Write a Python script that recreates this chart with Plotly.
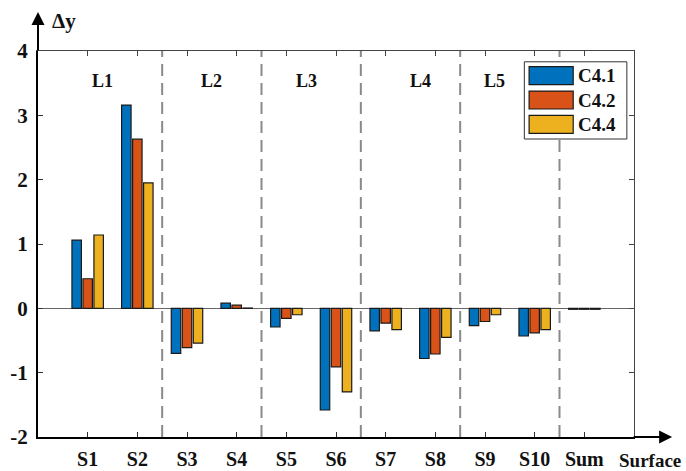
import plotly.graph_objects as go

# Sample groups along the x axis; the last tick marks the surface end
categories = ["S1", "S2", "S3", "S4", "S5", "S6", "S7", "S8", "S9", "S10", "Sum"]
end_label = "Surface"

# Layers and the samples each one contains
layers = ["L1", "L2", "L3", "L4", "L5"]
layer_members = [["S1", "S2"], ["S3", "S4"], ["S5", "S6"], ["S7", "S8"], ["S9", "S10"]]
layer_label_x = [1.3, 3.5, 5.4, 7.7, 9.2]
layer_label_y = 3.53

# Change of y per case
series_names = ["C4.1", "C4.2", "C4.4"]
c41 = [1.06, 3.16, -0.70, 0.08, -0.29, -1.58, -0.35, -0.78, -0.27, -0.43, -0.015]
c42 = [0.46, 2.63, -0.61, 0.05, -0.155, -0.91, -0.23, -0.71, -0.205, -0.38, -0.015]
c44 = [1.14, 1.95, -0.54, 0.005, -0.10, -1.30, -0.33, -0.45, -0.10, -0.33, -0.015]
series_values = [c41, c42, c44]
colors = ["#0072BD", "#D95319", "#EDB120"]

y_ticks = [-2, -1, 0, 1, 2, 3, 4]
y_tick_text = [str(v) for v in y_ticks]  # plain hyphen minus

SERIF = "Liberation Serif"
positions = list(range(1, len(categories) + 1))
all_ticks = positions + [len(categories) + 1]
all_text = categories + [""]
x_range = [0, len(categories) + 1]
y_range = [y_ticks[0], y_ticks[-1]]

fig = go.Figure()
for name, vals, col in zip(series_names, series_values, colors):
    fig.add_trace(go.Bar(
        x=positions, y=vals, name=name,
        marker=dict(color=col, line=dict(color="#1a1a1a", width=1.2)),
        showlegend=False,
    ))

# helper trace so the mirrored top/right axes are drawn
fig.add_trace(go.Scatter(x=[None], y=[None], xaxis="x2", yaxis="y2",
                         showlegend=False, hoverinfo="skip"))

shapes = []
# dashed separators after the last sample of each layer
for members in layer_members:
    sep = categories.index(members[-1]) + 1 + 0.5
    shapes.append(dict(type="line", xref="x", yref="y", x0=sep, x1=sep,
                       y0=y_range[0], y1=y_range[1],
                       line=dict(color="#8a8a8a", width=2, dash="12px,7px"),
                       layer="below"))

annotations = []
for lab, lx in zip(layers, layer_label_x):
    annotations.append(dict(x=lx, y=layer_label_y, xref="x", yref="y", text=f"<b>{lab}</b>",
                            showarrow=False, font=dict(family=SERIF, size=18, color="#111")))

# axis arrows
annotations.append(dict(x=0, y=1.101, xref="paper", yref="paper", text="",
                        showarrow=True, ax=0, ay=40, axref="pixel", ayref="pixel",
                        arrowhead=2, arrowsize=1.3, arrowwidth=2, arrowcolor="#000"))
annotations.append(dict(x=1.064, y=0, xref="paper", yref="paper", text="",
                        showarrow=True, ax=-40, ay=0, axref="pixel", ayref="pixel",
                        arrowhead=2, arrowsize=1.3, arrowwidth=2, arrowcolor="#000"))
annotations.append(dict(x=0.02, y=1.078, xref="paper", yref="paper", text="<b>Δy</b>",
                        xanchor="left", yanchor="middle", showarrow=False,
                        font=dict(family=SERIF, size=21, color="#111")))
# name of the x-axis end, placed past the axis end
annotations.append(dict(x=1.027, y=-0.06, xref="paper", yref="paper", text=f"<b>{end_label}</b>",
                        xanchor="center", yanchor="middle", showarrow=False,
                        font=dict(family=SERIF, size=19, color="#111")))

# legend box with swatches
lg_x0, lg_x1, lg_top, lg_bot = 0.816, 0.988, 0.972, 0.772
shapes.append(dict(type="rect", xref="paper", yref="paper", x0=lg_x0, x1=lg_x1,
                   y0=lg_bot, y1=lg_top, fillcolor="white",
                   line=dict(color="#333", width=1), layer="above"))
row_h = 0.063
sw_h = 0.0466
for i, (name, col) in enumerate(zip(series_names, colors)):
    yc = lg_top - 0.036 - i * row_h
    shapes.append(dict(type="rect", xref="paper", yref="paper", x0=0.824, x1=0.898,
                       y0=yc - sw_h / 2, y1=yc + sw_h / 2, fillcolor=col,
                       line=dict(color="#1a1a1a", width=1.2), layer="above"))
    annotations.append(dict(x=0.903, y=yc, xref="paper", yref="paper", text=f"<b>{name}</b>",
                            xanchor="left", yanchor="middle", showarrow=False,
                            font=dict(family=SERIF, size=19, color="#111")))

fig.update_layout(
    width=686, height=471,
    margin=dict(l=38, r=52, t=51, b=34),
    paper_bgcolor="white", plot_bgcolor="white",
    barmode="group", bargap=0.336, bargroupgap=0.14,
    shapes=shapes, annotations=annotations,
    xaxis=dict(range=x_range, tickvals=all_ticks, ticktext=all_text,
               tickangle=0, automargin=False,
               showgrid=False, zeroline=False,
               showline=True, linecolor="#000", linewidth=2,
               ticks="inside", ticklen=5, tickwidth=1, tickcolor="#333",
               tickfont=dict(family=SERIF, size=20, color="#111", weight="bold"),
               ticklabelstandoff=3),
    yaxis=dict(range=y_range, tickvals=y_ticks, ticktext=y_tick_text,
               showgrid=False, automargin=False,
               zeroline=True, zerolinecolor="#666", zerolinewidth=1.3,
               showline=True, linecolor="#000", linewidth=2,
               ticks="inside", ticklen=5, tickwidth=1, tickcolor="#333",
               tickfont=dict(family=SERIF, size=21, color="#111", weight="bold"),
               ticklabelstandoff=4),
    xaxis2=dict(range=x_range, overlaying="x", side="top", tickvals=all_ticks,
                showticklabels=False, showgrid=False, zeroline=False, automargin=False,
                showline=True, linecolor="#444", linewidth=1,
                ticks="inside", ticklen=5, tickcolor="#444"),
    yaxis2=dict(range=y_range, overlaying="y", side="right", tickvals=y_ticks,
                showticklabels=False, showgrid=False, zeroline=False, automargin=False,
                showline=True, linecolor="#444", linewidth=1,
                ticks="inside", ticklen=5, tickcolor="#444"),
)

fig.write_html("out.html")
